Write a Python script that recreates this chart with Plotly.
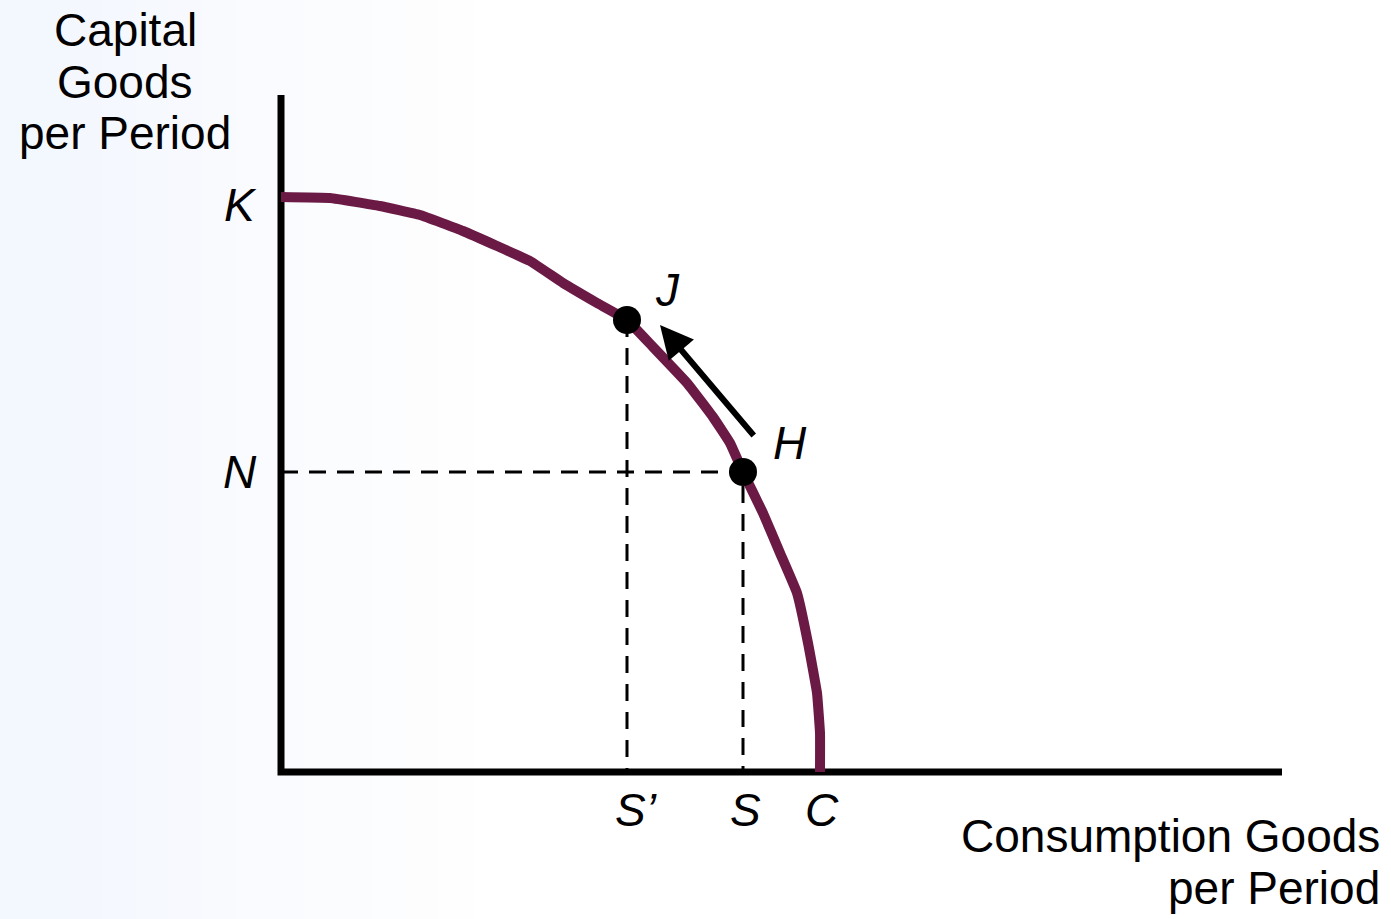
import plotly.graph_objects as go

# Production possibilities curve (consumption goods, capital goods)
curve_x = [0, 49, 99, 139, 182, 216, 249, 282, 316, 346, 372, 406, 432, 449, 462, 482, 499, 516, 527, 536, 539, 539]
curve_y = [575, 574, 566, 557, 541, 526, 511, 489, 469, 452, 425, 389, 355, 329, 300, 259, 219, 179, 129, 79, 39, 0]

# Named points on the curve
point_names = ["J", "H"]
point_x = [346, 462]
point_y = [452, 300]

# Axis tick labels
x_tick_labels = ["S\u2019", "S", "C"]
x_tick_vals = [346, 462, 539]
y_tick_labels = ["K", "N"]
y_tick_vals = [575, 300]

x_axis_max = 1001
y_axis_max = 677

FONT = "Arial, Liberation Sans, sans-serif"
CURVE_COLOR = "#6B1A46"
FS = 46

fig = go.Figure()

# background gradient (light blue at left fading to white)
n = 14
for i in range(n):
    t = i / n
    r = int(243 + (255 - 243) * t)
    g = int(247 + (255 - 247) * t)
    b = int(254 + (255 - 254) * t)
    fig.add_shape(type="rect", xref="paper", yref="paper",
                  x0=i * 0.34 / n, x1=(i + 1) * 0.34 / n + 0.001, y0=0, y1=1,
                  fillcolor=f"rgb({r},{g},{b})", line=dict(width=0), layer="below")

# dashed guide lines
fig.add_trace(go.Scatter(x=[0, point_x[1], point_x[1]], y=[point_y[1], point_y[1], 0],
                         mode="lines", line=dict(color="black", width=3, dash="17px,11px"),
                         hoverinfo="skip", showlegend=False))
fig.add_trace(go.Scatter(x=[point_x[0], point_x[0]], y=[point_y[0], 0],
                         mode="lines", line=dict(color="black", width=3, dash="17px,11px"),
                         hoverinfo="skip", showlegend=False))

# axes
fig.add_trace(go.Scatter(x=[0, 0, x_axis_max], y=[y_axis_max, 0, 0], mode="lines",
                         line=dict(color="black", width=7), hoverinfo="skip", showlegend=False))

# curve
fig.add_trace(go.Scatter(x=curve_x, y=curve_y, mode="lines",
                         line=dict(color=CURVE_COLOR, width=10, shape="spline", smoothing=0.3),
                         hoverinfo="skip", showlegend=False))

# points
fig.add_trace(go.Scatter(x=point_x, y=point_y, mode="markers",
                         marker=dict(color="black", size=28), hoverinfo="skip", showlegend=False))

# arrow from H toward J
fig.add_annotation(x=379, y=447, ax=474, ay=335, xref="x", yref="y", axref="x", ayref="y",
                   text="", showarrow=True, arrowhead=2, arrowsize=1.1, arrowwidth=6,
                   arrowcolor="black")

# point labels
lab_off = [(40, 30), (47, 29)]
for nm, px, py, (dx, dy) in zip(point_names, point_x, point_y, lab_off):
    fig.add_annotation(x=px + dx, y=py + dy, text=f"<i>{nm}</i>", showarrow=False,
                       xanchor="center", yanchor="middle",
                       font=dict(family=FONT, size=FS, color="black"))

# tick labels
for lab, v in zip(x_tick_labels, x_tick_vals):
    fig.add_annotation(x=v + (9 if "\u2019" in lab else 2), y=-38, text=f"<i>{lab}</i>",
                       showarrow=False, xanchor="center", yanchor="middle",
                       font=dict(family=FONT, size=FS, color="black"))
for lab, v, dy in zip(y_tick_labels, y_tick_vals, [-8, 0]):
    fig.add_annotation(x=-41, y=v + dy, text=f"<i>{lab}</i>", showarrow=False,
                       xanchor="center", yanchor="middle",
                       font=dict(family=FONT, size=FS, color="black"))

# axis titles
for txt, yy in zip(["Capital", "Goods", "per Period"], [742, 690, 639]):
    fig.add_annotation(x=-156, y=yy, text=txt, showarrow=False, xanchor="center",
                       yanchor="middle", font=dict(family=FONT, size=FS, color="black"))
for txt, yy in zip(["Consumption Goods", "per Period"], [-64, -116]):
    fig.add_annotation(x=1101, y=yy, text=txt, showarrow=False, xanchor="right",
                       yanchor="middle", font=dict(family=FONT, size=FS, color="black"))

fig.update_layout(
    width=1391, height=919, autosize=False,
    margin=dict(l=0, r=0, t=0, b=0),
    paper_bgcolor="white", plot_bgcolor="rgba(0,0,0,0)",
    xaxis=dict(range=[-281, 1110], visible=False, fixedrange=True),
    yaxis=dict(range=[-147, 772], visible=False, fixedrange=True),
    showlegend=False,
)

fig.write_html("out.html", config={"displayModeBar": False},
               post_script="document.body.style.margin='0';document.body.style.overflow='hidden';")
